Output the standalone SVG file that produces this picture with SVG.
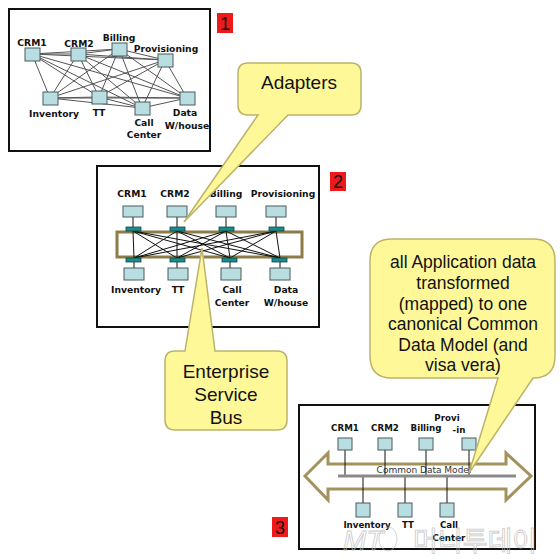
<svg xmlns="http://www.w3.org/2000/svg" width="560" height="560" viewBox="0 0 560 560">
<style>
.panel{fill:#fff;stroke:#111;stroke-width:2}
.n1{fill:#B9DEE2;stroke:#4a5a5c;stroke-width:1}
.ad{fill:#1E8A8A;stroke:#0c4a4a;stroke-width:0.8}
.lbl{font-family:"DejaVu Sans",Verdana,sans-serif;font-weight:bold;font-size:9.2px;fill:#111;text-anchor:middle}
.lbl3{font-family:"DejaVu Sans",Verdana,sans-serif;font-weight:bold;font-size:8.7px;fill:#111;text-anchor:middle}
.e1{stroke:#555;stroke-width:1;fill:none}
.e2{stroke:#111;stroke-width:1;fill:none}
.call{fill:#FFF899;stroke:#BDB26A;stroke-width:1.5}
.ct{font-family:"Liberation Sans",Arial,sans-serif;fill:#111;text-anchor:middle}
.num{fill:#EE1A1A}
.numt{font-family:"Liberation Sans",Arial,sans-serif;font-size:18px;fill:#111;text-anchor:middle}
</style>

<!-- Panel 1 -->
<g id="panel1">
<rect class="panel" x="9" y="9" width="201" height="142"/>
<g id="p1-edges">
<path class="e1" d="M32,54 L78,54 M32,54 L119,49 M32,54 L165,60 M32,54 L50,98 M32,54 L99,97 M32,54 L142,108 M32,54 L187,98
M78,54 L119,49 M78,54 L165,60 M78,54 L50,98 M78,54 L99,97 M78,54 L142,108 M78,54 L187,98
M119,49 L165,60 M119,49 L50,98 M119,49 L99,97 M119,49 L142,108 M119,49 L187,98
M165,60 L50,98 M165,60 L99,97 M165,60 L142,108 M165,60 L187,98
M50,98 L99,97 M50,98 L142,108 M50,98 L187,98 M99,97 L142,108 M99,97 L187,98 M142,108 L187,98"/>
</g>
<g id="p1-crm1"><rect class="n1" x="25" y="48" width="15" height="13"/><text class="lbl" x="32" y="46">CRM1</text></g>
<g id="p1-crm2"><rect class="n1" x="71" y="48" width="15" height="13"/><text class="lbl" x="79" y="47">CRM2</text></g>
<g id="p1-billing"><rect class="n1" x="112" y="43" width="15" height="13"/><text class="lbl" x="119" y="41">Billing</text></g>
<g id="p1-prov"><rect class="n1" x="158" y="54" width="15" height="13"/><text class="lbl" x="166" y="52">Provisioning</text></g>
<g id="p1-inv"><rect class="n1" x="43" y="92" width="15" height="13"/><text class="lbl" x="54" y="117">Inventory</text></g>
<g id="p1-tt"><rect class="n1" x="92" y="91" width="15" height="13"/><text class="lbl" x="99" y="116">TT</text></g>
<g id="p1-call"><rect class="n1" x="135" y="102" width="15" height="13"/><text class="lbl" x="144" y="126">Call</text><text class="lbl" x="144" y="138">Center</text></g>
<g id="p1-data"><rect class="n1" x="180" y="92" width="15" height="13"/><text class="lbl" x="185" y="116">Data</text><text class="lbl" x="187" y="129">W/house</text></g>
</g>
<g id="num1"><rect class="num" x="217" y="13" width="16" height="20"/><text class="numt" x="225" y="30">1</text></g>

<!-- Panel 2 -->
<g id="panel2">
<rect class="panel" x="97" y="166" width="222" height="161"/>
<rect id="bus" x="117" y="232" width="185" height="25" fill="#fff" stroke="#8C7C48" stroke-width="3"/>
<g id="p2-edges">
<path class="e2" d="M133,217 V227 M177,217 V227 M226,217 V227 M276,217 V227
M134,262 V268 M177,262 V268 M230,262 V268 M280,262 V268
M133,231 L134,258 M133,231 L177,258 M133,231 L230,258 M133,231 L280,258
M177,231 L134,258 M177,231 L177,258 M177,231 L230,258 M177,231 L280,258
M226,231 L134,258 M226,231 L177,258 M226,231 L230,258 M226,231 L280,258
M276,231 L134,258 M276,231 L177,258 M276,231 L230,258 M276,231 L280,258"/>
</g>
<g id="p2-crm1"><rect class="n1" x="123" y="206" width="20" height="11"/><rect class="ad" x="126" y="227" width="15" height="4"/><text class="lbl" x="132" y="197">CRM1</text></g>
<g id="p2-crm2"><rect class="n1" x="167" y="206" width="20" height="11"/><rect class="ad" x="170" y="227" width="15" height="4"/><text class="lbl" x="175" y="197">CRM2</text></g>
<g id="p2-billing"><rect class="n1" x="216" y="206" width="20" height="11"/><rect class="ad" x="219" y="227" width="15" height="4"/><text class="lbl" x="226" y="197">Billing</text></g>
<g id="p2-prov"><rect class="n1" x="266" y="206" width="20" height="11"/><rect class="ad" x="269" y="227" width="15" height="4"/><text class="lbl" x="283" y="197">Provisioning</text></g>
<g id="p2-inv"><rect class="ad" x="126" y="258" width="15" height="4"/><rect class="n1" x="124" y="268" width="20" height="12"/><text class="lbl" x="136" y="293">Inventory</text></g>
<g id="p2-tt"><rect class="ad" x="170" y="258" width="15" height="4"/><rect class="n1" x="168" y="268" width="20" height="12"/><text class="lbl" x="178" y="293">TT</text></g>
<g id="p2-call"><rect class="ad" x="222" y="258" width="15" height="4"/><rect class="n1" x="221" y="268" width="20" height="12"/><text class="lbl" x="232" y="293">Call</text><text class="lbl" x="232" y="306">Center</text></g>
<g id="p2-data"><rect class="ad" x="272" y="258" width="15" height="4"/><rect class="n1" x="270" y="268" width="20" height="12"/><text class="lbl" x="286" y="293">Data</text><text class="lbl" x="286" y="306">W/house</text></g>
</g>
<g id="num2"><rect class="num" x="330" y="172" width="16" height="19"/><text class="numt" x="338" y="188">2</text></g>

<!-- Panel 3 -->
<g id="panel3">
<rect class="panel" x="299" y="405" width="236" height="144"/>
<path id="cdm-arrow" d="M305,476 L328,453 L328,464 L506,464 L506,453 L531,476 L506,500 L506,489 L328,489 L328,500 Z" fill="#fff" stroke="#A3925C" stroke-width="3" stroke-linejoin="miter"/>
<text x="424" y="473" font-family="DejaVu Sans,Verdana,sans-serif" font-size="9px" fill="#333" text-anchor="middle">Common Data Model</text>
<g id="p3-edges">
<path class="e2" d="M345,450 V476 M385,450 V476 M426,450 V476 M469,450 V476 M363,477 V503 M405,477 V503 M447,477 V503"/>
</g>
<rect id="cdm-bar" x="338" y="474.5" width="178" height="3" fill="#8A8A8A"/>
<g id="p3-crm1"><rect class="n1" x="338" y="438" width="14" height="12"/><text class="lbl3" x="345" y="431">CRM1</text></g>
<g id="p3-crm2"><rect class="n1" x="378" y="438" width="14" height="12"/><text class="lbl3" x="385" y="431">CRM2</text></g>
<g id="p3-billing"><rect class="n1" x="419" y="438" width="14" height="12"/><text class="lbl3" x="426" y="431">Billing</text></g>
<g id="p3-prov"><rect class="n1" x="462" y="438" width="14" height="12"/><text class="lbl3" x="447" y="421" text-anchor="start">Provi</text><text class="lbl3" x="459" y="433" text-anchor="start">-in</text></g>
<g id="p3-inv"><rect class="n1" x="356" y="503" width="14" height="14"/><text class="lbl3" x="367" y="528">Inventory</text></g>
<g id="p3-tt"><rect class="n1" x="398" y="503" width="14" height="14"/><text class="lbl3" x="408" y="528">TT</text></g>
<g id="p3-call"><rect class="n1" x="440" y="503" width="14" height="14"/><text class="lbl3" x="449" y="528">Call</text><text class="lbl3" x="449" y="541">Center</text></g>
</g>
<g id="num3"><rect class="num" x="272" y="517" width="16" height="20"/><text class="numt" x="280" y="534">3</text></g>

<!-- Callouts -->
<g id="callout-adapters">
<path class="call" d="M248,63 H351 Q361,63 361,73 V105 Q361,115 351,115 H288 L184,222 L258,115 H248 Q238,115 238,105 V73 Q238,63 248,63 Z"/>
<text class="ct" x="299" y="89" font-size="19px">Adapters</text>
</g>
<g id="callout-esb">
<path class="call" d="M175,351 H185 L202,248 L215,351 H277 Q287,351 287,361 V420 Q287,430 277,430 H175 Q165,430 165,420 V361 Q165,351 175,351 Z"/>
<text class="ct" x="226" y="378" font-size="19px">Enterprise</text>
<text class="ct" x="226" y="401" font-size="19px">Service</text>
<text class="ct" x="226" y="424" font-size="19px">Bus</text>
</g>
<g id="callout-cdm">
<path class="call" d="M392,239 H533 Q555,239 555,261 V356 Q555,378 533,378 L469,473 L498,378 H392 Q370,378 370,356 V261 Q370,239 392,239 Z"/>
<g class="ct" font-size="17.5px">
<text x="463" y="268">all Application data</text>
<text x="463" y="289">transformed</text>
<text x="463" y="310">(mapped) to one</text>
<text x="463" y="330">canonical Common</text>
<text x="463" y="351">Data Model (and</text>
<text x="463" y="371">visa vera)</text>
</g>
</g>

<!-- watermark -->
<g id="watermark" fill="none" stroke="#bdbdbd" stroke-width="0.8" opacity="0.8">
<text x="343" y="550" font-family="Liberation Sans,Arial,sans-serif" font-style="italic" font-size="28px">MT</text>
<ellipse cx="388" cy="539" rx="9" ry="12"/>
<text x="413" y="551" font-family="Noto Sans CJK KR,sans-serif" font-size="27px">머니투데이</text>
</g>
</svg>
